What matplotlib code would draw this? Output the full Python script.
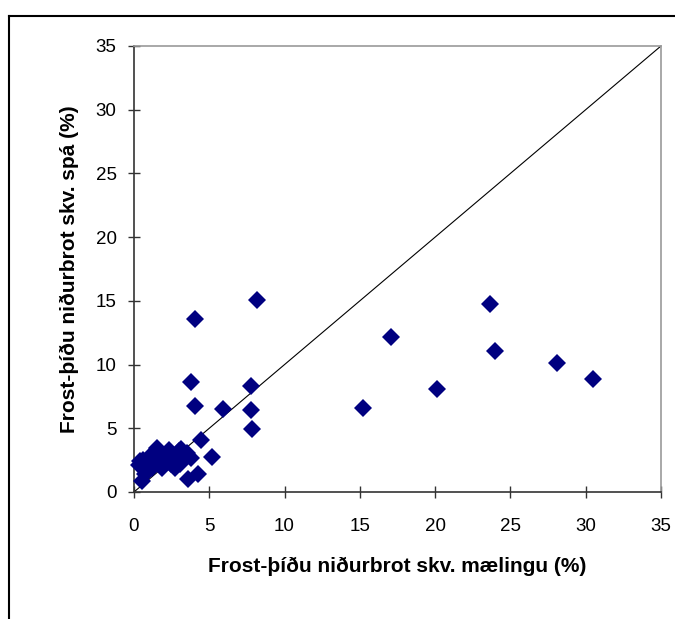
import matplotlib.pyplot as plt
from matplotlib.lines import Line2D

plt.rcParams['font.family'] = ['Liberation Sans', 'DejaVu Sans']

# mæling (x) og spá (y), lesið af myndinni
maeling = [8.15, 4.04, 23.64, 17.04, 23.98, 28.11, 30.47, 20.14, 3.76, 7.77,
           4.04, 5.94, 7.77, 15.23, 7.86, 4.45, 5.19, 4.27, 3.61, 0.55,
           1.55, 2.35, 3.15, 3.55, 3.76, 0.40, 0.30, 1.03, 1.89, 2.47,
           2.75, 3.04, 0.89, 1.32, 1.75, 2.04, 0.75, 1.18, 2.32, 3.33,
           0.60, 1.00, 1.40, 2.60, 3.00]
spa = [15.06, 13.57, 14.78, 12.15, 11.04, 10.11, 8.87, 8.10, 8.60, 8.35,
       6.77, 6.49, 6.46, 6.56, 4.95, 4.08, 2.72, 1.39, 1.02, 0.87,
       3.49, 3.31, 3.40, 3.09, 2.69, 2.40, 2.10, 2.78, 1.86, 2.16,
       1.86, 2.23, 1.70, 2.16, 2.63, 2.32, 1.39, 1.86, 2.63, 2.63,
       2.50, 2.45, 2.90, 2.90, 3.20]
ticks = [0, 5, 10, 15, 20, 25, 30, 35]

fig = plt.figure(figsize=(6.75, 6.19), dpi=100)
ax = fig.add_axes([0.1985, 0.2052, 0.7807, 0.7205])

ax.plot([0, 35], [0, 35], color='black', lw=0.8, zorder=2)
ax.plot(maeling, spa, linestyle='none', marker='D', ms=9, color='#000080',
        markeredgewidth=0, zorder=3, clip_on=False)

ax.set_xlim(0, 35)
ax.set_ylim(0, 35)
ax.set_xticks(ticks)
ax.set_yticks(ticks)
ax.tick_params(direction='inout', length=9, width=1, labelsize=13.5,
               color='#333333')
ax.tick_params(axis='x', pad=14)
ax.tick_params(axis='y', pad=8)
ax.spines['top'].set_color('#999999')
ax.spines['right'].set_color('#999999')
ax.spines['left'].set_color('#333333')
ax.spines['bottom'].set_color('#333333')
for s in ax.spines.values():
    s.set_linewidth(1.2)

ax.set_xlabel('Frost-þíðu niðurbrot skv. mælingu (%)', fontsize=15,
              fontweight='bold', labelpad=16)
ax.set_ylabel('Frost-þíðu niðurbrot skv. spá (%)', fontsize=15,
              fontweight='bold', labelpad=12)

# rammi utan um línuritið
fig.add_artist(Line2D([9 / 675, 9 / 675], [0, 1 - 16 / 619], color='black',
                      lw=1.5, transform=fig.transFigure))
fig.add_artist(Line2D([9 / 675, 1], [1 - 16 / 619, 1 - 16 / 619], color='black',
                      lw=1.5, transform=fig.transFigure))

fig.savefig('out.png', dpi=100)
